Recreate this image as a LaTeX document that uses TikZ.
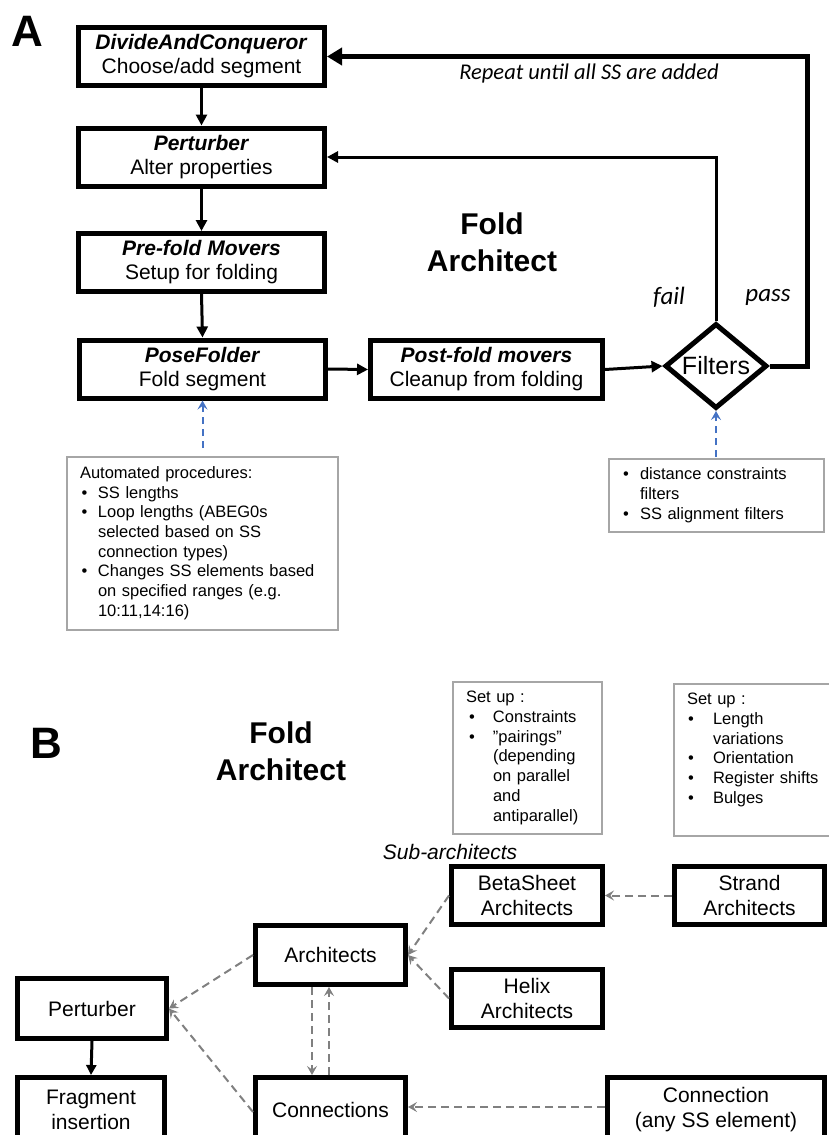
\documentclass[tikz,border=0pt]{standalone}
\usepackage{fontspec}
\setmainfont{Liberation Sans}
\newfontfamily\calfont{Carlito}
\usetikzlibrary{arrows.meta,shapes.geometric}
\definecolor{annblue}{HTML}{4472C4}
\definecolor{dgrey}{HTML}{808080}
\definecolor{bgrey}{HTML}{A6A6A6}
\newcommand{\myfs}[2]{\fontsize{#1}{#2}\selectfont}
\begin{document}
\begin{tikzpicture}[x=1pt,y=-1pt,
  abox/.style={draw, line width=5pt, inner sep=0pt, align=center, font=\myfs{21}{24}, minimum width=246, minimum height=58},
  bbox/.style={draw, line width=5pt, inner sep=0pt, align=center, font=\myfs{21}{25}, minimum height=58},
  gbox/.style={draw=bgrey, line width=2pt, inner xsep=13pt, inner ysep=0pt, align=left, font=\myfs{16.5}{19.7}},
  arrA/.style={line width=3pt, -{Triangle[length=11pt,width=11pt]}},
  bluearr/.style={draw=annblue, line width=2pt, dash pattern=on 7pt off 5pt, -{Stealth[length=9pt,width=10pt,inset=3.5pt]}},
  greyarr/.style={draw=dgrey, line width=2pt, dash pattern=on 8pt off 5pt, -{Stealth[length=9pt,width=10pt,inset=3.5pt]}},
  biglabel/.style={font=\bfseries\myfs{44}{44}, inner sep=0pt},
  titlelab/.style={font=\bfseries\myfs{30}{37}, align=center, inner sep=0pt},
  callab/.style={font=\calfont\itshape\myfs{22.5}{26}, inner sep=0pt}
]
\useasboundingbox (0,0) rectangle (828,1135);

% ---------------- Part A ----------------
\node[biglabel] (labA) at (27.5,31) {A};
\node[abox] (dac) at (201.5,56.5) {\textbf{\textit{DivideAndConqueror}}\\Choose/add segment};
\node[abox] (per) at (201.5,157) {\textbf{\textit{Perturber}}\\Alter properties};
\node[abox] (pre) at (201.5,262.5) {\textbf{\textit{Pre-fold Movers}}\\Setup for folding};
\node[abox] (pose) at (202.5,369) {\textbf{\textit{PoseFolder}}\\Fold segment};
\node[abox, minimum width=232] (post) at (486.5,369.5) {\textbf{\textit{Post-fold movers}}\\Cleanup from folding};
\node[diamond, draw, line width=5pt, minimum width=102, minimum height=85, aspect=1.2, inner sep=0pt, font=\myfs{25}{28}] (filt) at (716,366) {Filters};

\node[titlelab] (fa1) at (492,242.5) {Fold\\Architect};
\node[callab] (rep) at (589,74) {Repeat until all SS are added};
\node[callab, font=\calfont\itshape\myfs{25}{28}] (fail) at (669,297) {fail};
\node[callab, font=\calfont\itshape\myfs{25}{28}] (pass) at (768,297) {pass};

\draw[arrA] (dac.south) -- (per.north);
\draw[arrA] (per.south) -- (pre.north);
\draw[arrA] (pre.south) -- (pose.north);
\draw[arrA] (pose.east) -- (post.west);
\draw[arrA] (post.east) -- (filt.west);
\draw[arrA] (filt.north) |- (per.east);
\coordinate (pc) at (807,0);
\draw[line width=5pt, -{Triangle[length=15pt,width=17pt]}] (filt.east) -- (filt.east -| pc) -- (pc |- dac.east) -- (dac.east);

\node[gbox, text width=245pt, minimum height=173pt] (ann1) at (202.5,543.5) {%
\begin{tabular}{@{}p{18pt}@{}l@{}}
\multicolumn{2}{@{}l@{}}{Automated procedures:}\\
\hspace{1.5pt}\textbullet & SS lengths\\
\hspace{1.5pt}\textbullet & Loop lengths (ABEG0s\\
 & selected based on SS\\
 & connection types)\\
\hspace{1.5pt}\textbullet & Changes SS elements based\\
 & on specified ranges (e.g.\\
 & 10:11,14:16)
\end{tabular}};
\node[gbox, text width=189pt, minimum height=73pt] (ann2) at (716.5,495.5) {%
\begin{tabular}{@{}p{18pt}@{}l@{}}
\hspace{1pt}\textbullet & distance constraints\\
 & filters\\
\hspace{1pt}\textbullet & SS alignment filters
\end{tabular}};
\draw[bluearr, shorten <=8pt] (ann1.north) -- (pose.south);
\draw[bluearr, shorten <=1pt] (filt.south |- ann2.north) -- (filt.south);

% ---------------- Part B ----------------
\node[biglabel] (labB) at (46,743.5) {B};
\node[titlelab] (fa2) at (281,751) {Fold\\Architect};

\node[gbox, text width=123pt, minimum height=152pt] (set1) at (527.5,758) {%
\begin{tabular}{@{}p{27pt}@{}l@{}}
\multicolumn{2}{@{}l@{}}{Set up :}\\
\hspace{3pt}\textbullet & Constraints\\
\hspace{3pt}\textbullet & ”pairings”\\
 & (depending\\
 & on parallel\\
 & and\\
 & antiparallel)
\end{tabular}};
\node[gbox, text width=140pt, minimum height=152pt] (set2) at (757,760) {%
\begin{tabular}{@{}p{26pt}@{}l@{}}
\multicolumn{2}{@{}l@{}}{Set up :}\\
\hspace{1pt}\textbullet & Length\\
 & variations\\
\hspace{1pt}\textbullet & Orientation\\
\hspace{1pt}\textbullet & Register shifts\\
\hspace{1pt}\textbullet & Bulges\\
 & \\
\end{tabular}};

\node[font=\itshape\myfs{21}{24}, inner sep=0pt] (sub) at (450,852) {Sub-architects};

\node[bbox, minimum width=151] (beta) at (527,895.5) {BetaSheet\\Architects};
\node[bbox, minimum width=150] (strand) at (749.5,895.5) {Strand\\Architects};
\node[bbox, minimum width=151] (helix) at (527,998.5) {Helix\\Architects};
\node[bbox, minimum width=150, minimum height=59] (arch) at (330.5,955) {Architects};
\node[bbox, minimum width=149, minimum height=60] (pertB) at (92,1008.5) {Perturber};
\node[bbox, minimum width=147, minimum height=64] (frag) at (91,1109.5) {Fragment\\insertion};
\node[bbox, minimum width=150, minimum height=64] (conn) at (330.5,1109.5) {Connections};
\node[bbox, minimum width=217, minimum height=64] (any) at (716,1109.5) {Connection\\(any SS element)};

\draw[greyarr] (strand.west) -- (beta.east);
\draw[greyarr] (beta.west) -- (arch.east);
\draw[greyarr] (helix.west) -- (arch.east);
\draw[greyarr] (arch.west) -- (pertB.east);
\draw[greyarr] ([yshift=-2.5pt]conn.west) -- (pertB.east);
\draw[greyarr] ([xshift=-18.5pt]arch.south) -- ([xshift=-18.5pt]conn.north);
\draw[greyarr] ([xshift=-1.5pt]conn.north) -- ([xshift=-1.5pt]arch.south);
\draw[greyarr] ([yshift=2.5pt]any.west) -- ([yshift=2.5pt]conn.east);
\draw[line width=3pt, -{Triangle[length=10pt,width=10pt]}] (pertB.south) -- (frag.north);
\end{tikzpicture}
\end{document}
